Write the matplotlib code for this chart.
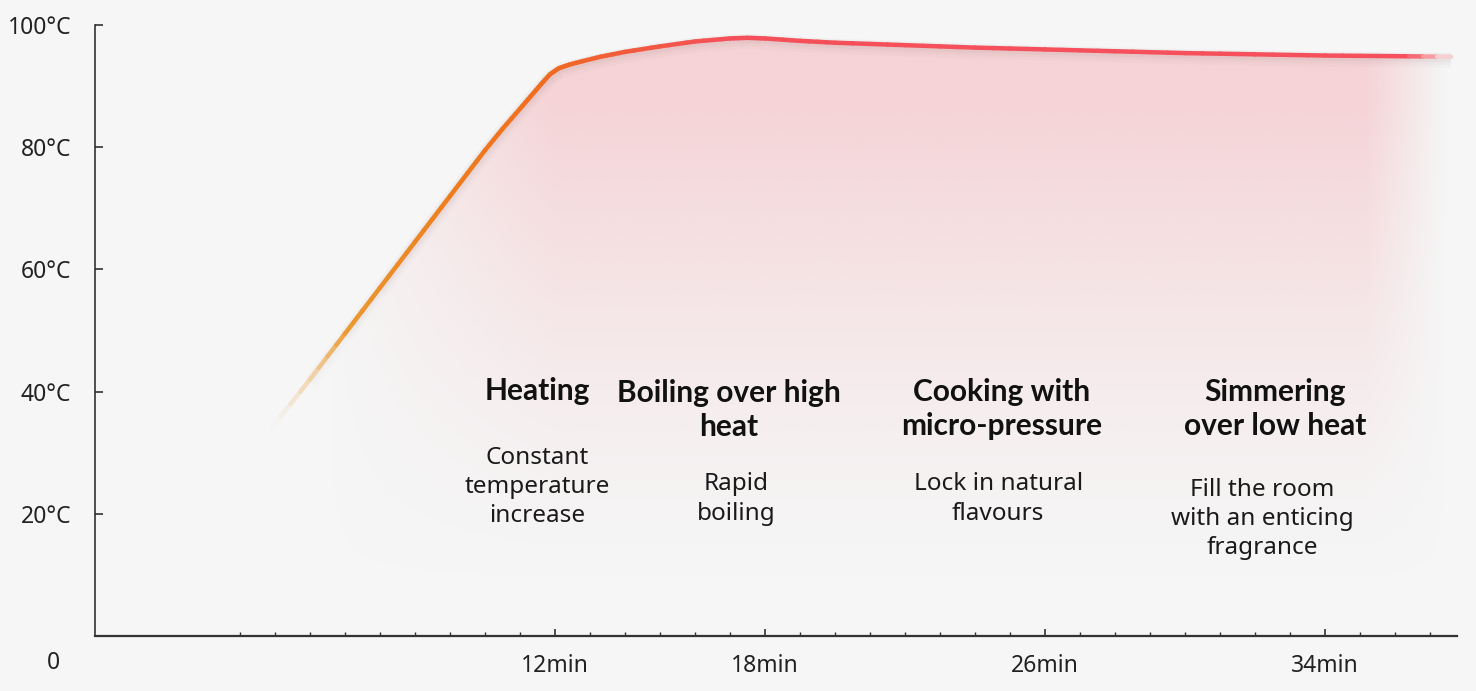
import matplotlib.pyplot as plt
import numpy as np
from matplotlib.collections import LineCollection
from matplotlib.patches import Polygon
from matplotlib.colors import to_rgb
import matplotlib.transforms as mtransforms

plt.rcParams['font.family'] = ['Noto Sans', 'DejaVu Sans']

# curve (minutes, degrees C)
minutes = [3.9, 5, 6, 7, 8, 9, 10, 10.5, 11, 11.3, 11.6, 11.85, 12.1, 12.4, 12.8,
           13.3, 14, 15, 16, 17, 17.5, 18, 19, 20, 22, 24, 26, 28, 30, 32, 34, 36,
           37.6]
temps = [34, 42, 49.5, 57, 64.5, 72, 79.5, 83, 86.3, 88.3, 90.3, 91.9, 92.9, 93.5,
         94.1, 94.8, 95.6, 96.5, 97.3, 97.8, 97.9, 97.8, 97.4, 97.1, 96.7, 96.3,
         96.0, 95.7, 95.4, 95.2, 95.0, 94.9, 94.8]

x_major = [12, 18, 26, 34]
x_major_labels = ['12min', '18min', '26min', '34min']
x_minor = list(range(3, 38))
y_ticks = [20, 40, 60, 80, 100]
y_tick_labels = ['20°C', '40°C', '60°C', '80°C', '100°C']

phase_titles = ['Heating', 'Boiling over high\nheat', 'Cooking with\nmicro-pressure',
                'Simmering\nover low heat']
phase_title_x = [11.49, 16.97, 24.77, 32.57]
phase_title_y = [40.1, 37.0, 37.15, 37.15]
phase_texts = ['Constant\ntemperature\nincrease', 'Rapid\nboiling',
               'Lock in natural\nflavours', 'Fill the room\nwith an enticing\nfragrance']
phase_text_x = [11.49, 17.17, 24.66, 32.2]
phase_text_y = [24.4, 22.4, 22.4, 19.15]

bg = '#f6f6f6'
fig = plt.figure(figsize=(14.76, 6.91), dpi=100, facecolor=bg)
ax = fig.add_axes([95 / 1476, 55 / 691, 1362 / 1476, 611 / 691])
ax.set_facecolor(bg)
x0, x1 = -1.143, 37.77
ax.set_xlim(x0, x1)
ax.set_ylim(0, 100)

t = np.array(minutes)
T = np.array(temps)

# pink gradient fill under the curve
verts = list(zip(t, T)) + [(t[-1], 0), (t[0], 0)]
poly = Polygon(verts, closed=True, facecolor='none', edgecolor='none')
ax.add_patch(poly)
gx = np.linspace(x0, x1, 500)
gy = np.linspace(0, 100, 300)
GX, GY = np.meshgrid(gx, gy)
v = np.clip((GY - 8) / 80, 0, 1) ** 1.4
h = np.clip((GX - 5.5) / 6.5, 0, 1) ** 0.9 * np.clip((37.5 - GX) / 2.3, 0, 1)
img = np.zeros((300, 500, 4))
img[..., :3] = to_rgb('#f5d3d6')
img[..., 3] = v * h
im = ax.imshow(img, extent=[x0, x1, 0, 100], origin='lower', aspect='auto',
               zorder=1, interpolation='bilinear')
im.set_clip_path(poly)

# soft shadow under the line
pts = np.column_stack([t, T])
for lw, a, dy in [(11, 0.03, -3.5), (8, 0.045, -2.5), (5.5, 0.06, -1.5)]:
    off = mtransforms.offset_copy(ax.transData, fig=fig, x=0, y=dy, units='dots')
    segs = np.stack([pts[:-1], pts[1:]], axis=1)
    alphas = np.clip((t[:-1] - 4.3) / 3, 0, 1) * np.clip((37.4 - t[:-1]) / 1.5, 0, 1)
    cols = [(0.55, 0.45, 0.45, a * al) for al in alphas]
    sh = LineCollection(segs, colors=cols, linewidths=lw, transform=off,
                        capstyle='butt', joinstyle='round', zorder=2)
    ax.add_collection(sh)

# gradient coloured line, fades blended into the background so caps don't bead
stops_t = [3.9, 6, 9, 12, 14, 17, 38]
stops_c = ['#ead2a8', '#eb9a32', '#ef7d1c', '#f06a22', '#f35a3c', '#f5505a', '#f5505c']
stops_rgb = np.array([to_rgb(c) for c in stops_c])
bg_rgb = np.array(to_rgb(bg))
segs = []
cols = []
for i in range(len(t) - 1):
    for k in range(4):
        p0 = pts[i] + (pts[i + 1] - pts[i]) * (k / 4)
        p1 = pts[i] + (pts[i + 1] - pts[i]) * ((k + 1) / 4)
        segs.append([p0, p1])
        tm = (p0[0] + p1[0]) / 2
        rgb = np.array([np.interp(tm, stops_t, stops_rgb[:, j]) for j in range(3)])
        al = np.clip((tm - 3.9) / 2.2, 0, 1) * np.clip((37.7 - tm) / 1.3, 0, 1)
        cols.append(tuple(rgb * al + bg_rgb * (1 - al)))
lc = LineCollection(segs, colors=cols, linewidths=3.2, capstyle='round', zorder=3)
ax.add_collection(lc)

# axes styling
for s in ['top', 'right']:
    ax.spines[s].set_visible(False)
ax.spines['bottom'].set_linewidth(1.6)
ax.spines['bottom'].set_color('#333333')
ax.spines['left'].set_linewidth(1.1)
ax.spines['left'].set_color('#222222')

ax.set_xticks(x_major)
ax.set_xticklabels(x_major_labels)
ax.set_xticks(x_minor, minor=True)
ax.tick_params(axis='x', which='major', direction='in', length=5, width=1.2,
               color='#333333', labelsize=16.5, pad=13, labelcolor='#222222')
ax.tick_params(axis='x', which='minor', direction='in', length=3, width=1,
               color='#333333')
ax.set_yticks(y_ticks)
ax.set_yticklabels(y_tick_labels)
ax.tick_params(axis='y', direction='in', length=6, width=1.1, color='#222222',
               labelsize=16.5, pad=17, labelcolor='#222222')

fig.text(53 / 1476, 1 - 663 / 691, '0', ha='center', va='center', fontsize=16.5,
         color='#222222')

for i in range(len(phase_titles)):
    ax.text(phase_title_x[i], phase_title_y[i], phase_titles[i], ha='center',
            va='center', fontsize=21.5, fontweight='bold', color='#111111',
            family=['Lato', 'DejaVu Sans'], linespacing=1.25, zorder=5)
    ax.text(phase_text_x[i], phase_text_y[i], phase_texts[i], ha='center',
            va='center', fontsize=17.5, color='#1a1a1a', linespacing=1.3, zorder=5)

fig.savefig('out.png', dpi=100, facecolor=bg)
